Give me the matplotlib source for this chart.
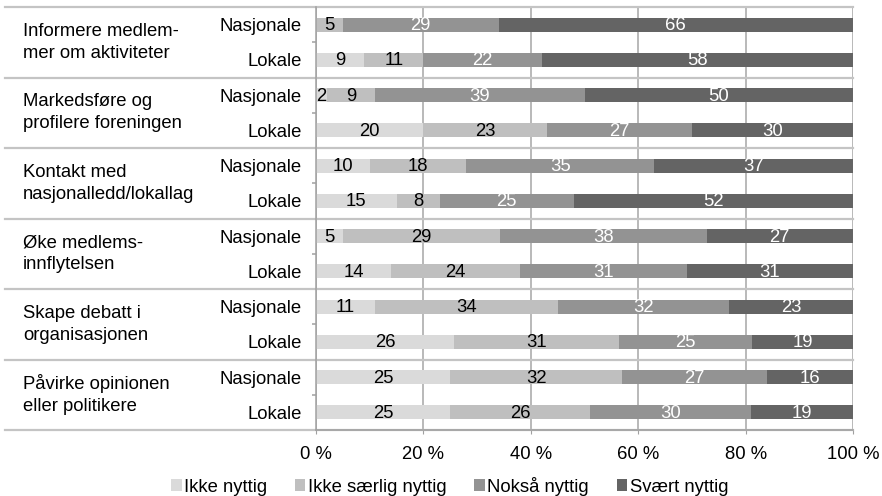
import numpy as np
import matplotlib
matplotlib.use("Agg")
import matplotlib.pyplot as plt
import matplotlib.transforms as mtransforms

plt.rcParams['font.family'] = ['Liberation Sans', 'DejaVu Sans']

# data (percent, as printed in the chart)
groups = ["Informere medlem-\nmer om aktiviteter",
          "Markedsføre og\nprofilere foreningen",
          "Kontakt med\nnasjonalledd/lokallag",
          "Øke medlems-\ninnflytelsen",
          "Skape debatt i\norganisasjonen",
          "Påvirke opinionen\neller politikere"]
levels = ["Nasjonale", "Lokale"]
series = ["Ikke nyttig", "Ikke særlig nyttig", "Nokså nyttig", "Svært nyttig"]

ikke_nyttig = [0, 9, 2, 20, 10, 15, 5, 14, 11, 26, 25, 25]
ikke_saerlig = [5, 11, 9, 23, 18, 8, 29, 24, 34, 31, 32, 26]
noksaa = [29, 22, 39, 27, 35, 25, 38, 31, 32, 25, 27, 30]
svaert = [66, 58, 50, 30, 37, 52, 27, 31, 23, 19, 16, 19]

colors = ['#dadada', '#bfbfbf', '#939393', '#646464']
text_colors = ['black', 'black', 'white', 'white']
fs = 13.3

W, H = 882, 496
fig = plt.figure(figsize=(W / 100, H / 100), dpi=100)
x0, x1, y0, y1 = 316, 853, 7, 430
ax = fig.add_axes([x0 / W, 1 - y1 / H, (x1 - x0) / W, (y1 - y0) / H])

rows = np.arange(len(groups) * len(levels))
values = np.array([ikke_nyttig, ikke_saerlig, noksaa, svaert], dtype=float)
shares = values / values.sum(axis=0) * 100

left = np.zeros(len(rows))
for k in range(len(series)):
    ax.barh(rows, shares[k], left=left, height=0.4, color=colors[k],
            label=series[k], zorder=2)
    for i in rows:
        if values[k, i] > 0:
            ax.text(left[i] + shares[k, i] / 2, i + 0.03, f"{values[k, i]:.0f}",
                    ha='center', va='center', fontsize=fs,
                    color=text_colors[k], zorder=3)
    left += shares[k]

ax.set_xlim(0, 100)
ax.set_ylim(len(rows) - 0.5, -0.5)

# axes styling
for s in ['top', 'right']:
    ax.spines[s].set_visible(False)
for s in ['left', 'bottom']:
    ax.spines[s].set_color('#a0a0a0')
    ax.spines[s].set_linewidth(1.1)
ax.set_axisbelow(True)
ax.xaxis.grid(True, color='#a6a6a6', linewidth=1.1)

ax.set_xticks(range(0, 101, 20))
ax.set_xticklabels([f"{v} %" for v in range(0, 101, 20)])
ax.tick_params(axis='x', length=3, color='#a0a0a0', pad=8.5, labelsize=fs)

ax.set_yticks(rows)
ax.set_yticklabels(levels * len(groups))
ax.tick_params(axis='y', which='major', length=0, pad=10, labelsize=fs)
ax.set_yticks(np.arange(0.5, len(rows), 2), minor=True)
ax.tick_params(axis='y', which='minor', length=3, color='#a0a0a0', width=1.1)

# group separator lines, extended to the label column
ext = -(x0 - 5) / (x1 - x0)
for b in np.arange(-0.5, len(rows), 2):
    ax.axhline(b, xmin=ext, xmax=1, color='#c4c4c4', linewidth=1.6,
               clip_on=False, zorder=1)

# group labels
trans = mtransforms.blended_transform_factory(fig.transFigure, ax.transData)
for g, name in enumerate(groups):
    ax.text(23 / W, 2 * g + 0.5, name, transform=trans, ha='left',
            va='center', fontsize=fs, linespacing=1.38)

fig.legend(loc='center', bbox_to_anchor=(0.51, 1 - 486 / H), ncol=4,
           frameon=False, fontsize=fs, handlelength=0.55, handleheight=0.6,
           handletextpad=0.15, columnspacing=1.5, borderaxespad=0)

fig.savefig('out.png', dpi=100)
